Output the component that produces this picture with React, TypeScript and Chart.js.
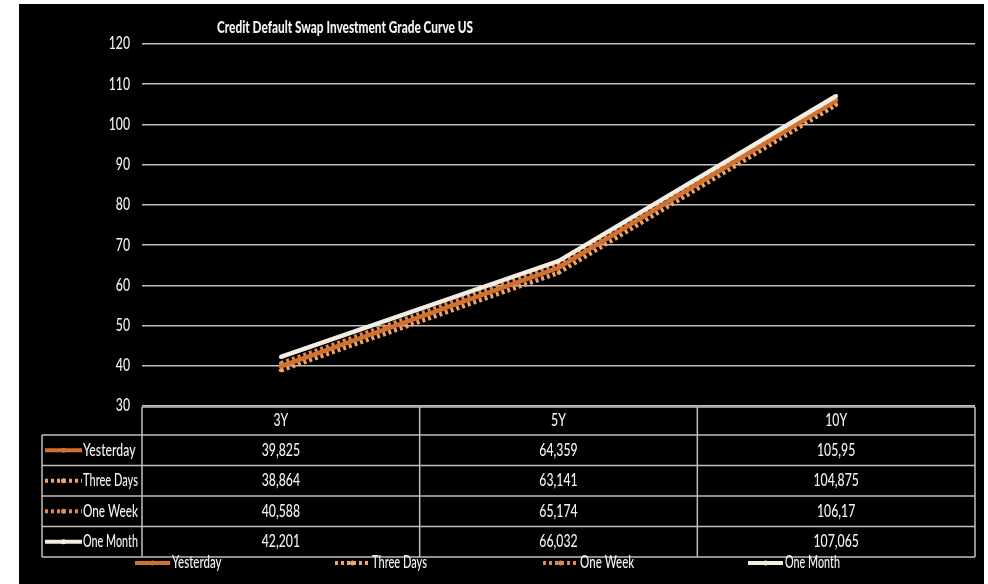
import React, { useEffect, useRef } from "react";
import { Chart, registerables } from "chart.js";

Chart.register(...registerables);

const TITLE = "Credit Default Swap Investment Grade Curve US";
const categories = ["3Y", "5Y", "10Y"];
const seriesNames = ["Yesterday", "Three Days", "One Week", "One Month"];
const yesterday = [39.825, 64.359, 105.95];
const threeDays = [38.864, 63.141, 104.875];
const oneWeek = [40.588, 65.174, 106.17];
const oneMonth = [42.201, 66.032, 107.065];
const yMin = 30;
const yMax = 120;
const yStep = 10;

const seriesValues = [yesterday, threeDays, oneWeek, oneMonth];
const seriesColors = ["#D2702E", "#F0A468", "#E08A50", "#F3ECE2"];
const seriesDash: number[][] = [[], [3, 3], [3, 3], []];
const seriesOrder = [1, 2, 3, 0];

const FONT = 'Lato, "Liberation Sans", Arial, sans-serif';
const TEXT = "#F2F2F2";
const GRID = "#BFBFBF";
const SX = 0.72;

const fmt = (v: number) => String(v).replace(".", ",");

function narrowText(
  ctx: CanvasRenderingContext2D,
  text: string,
  x: number,
  y: number,
  align: CanvasTextAlign,
  font: string,
  sx = SX,
  maxW?: number
) {
  ctx.save();
  ctx.font = font;
  ctx.fillStyle = TEXT;
  ctx.textAlign = align;
  ctx.textBaseline = "middle";
  ctx.translate(x, y);
  ctx.scale(sx, 1);
  if (maxW !== undefined) ctx.fillText(text, 0, 0, maxW / sx);
  else ctx.fillText(text, 0, 0);
  ctx.restore();
}

function drawSample(ctx: CanvasRenderingContext2D, i: number, x0: number, x1: number, y: number) {
  ctx.save();
  ctx.strokeStyle = seriesColors[i];
  ctx.lineWidth = 4;
  ctx.setLineDash(seriesDash[i]);
  ctx.beginPath();
  ctx.moveTo(x0, y);
  ctx.lineTo(x1, y);
  ctx.stroke();
  ctx.setLineDash([]);
  ctx.fillStyle = seriesColors[i];
  ctx.beginPath();
  ctx.arc((x0 + x1) / 2, y, 2.5, 0, Math.PI * 2);
  ctx.fill();
  ctx.restore();
}

const extrasPlugin = {
  id: "extras",
  afterDraw(chart: any) {
    const { ctx, chartArea, scales } = chart;
    const xs = scales.x;
    const ys = scales.y;
    const left = chartArea.left;
    const right = chartArea.right;
    const colW = (right - left) / categories.length;
    const top = chartArea.bottom + 1;
    const headerH = 28;
    const rowH = 30.5;
    const labelLeft = 23;
    const bottom = top + headerH + rowH * seriesNames.length;
    const f = `500 17px ${FONT}`;

    ctx.save();
    // title
    narrowText(ctx, TITLE, 326, 24, "center", `900 17px ${FONT}`, 0.7, 256);

    // y tick labels
    ys.ticks.forEach((t: any) => {
      narrowText(ctx, String(t.value), left - 12, ys.getPixelForValue(t.value), "right", f);
    });

    // table lines
    ctx.strokeStyle = GRID;
    ctx.lineWidth = 1.5;
    ctx.beginPath();
    ctx.moveTo(left, top);
    ctx.lineTo(right, top);
    for (let r = 0; r <= seriesNames.length; r++) {
      const y = top + headerH + r * rowH;
      ctx.moveTo(labelLeft, y);
      ctx.lineTo(right, y);
    }
    ctx.moveTo(labelLeft, top + headerH);
    ctx.lineTo(labelLeft, bottom);
    for (let c = 0; c <= categories.length; c++) {
      const x = left + c * colW;
      ctx.moveTo(x, top);
      ctx.lineTo(x, bottom);
    }
    ctx.stroke();

    // header
    categories.forEach((cat, c) => {
      narrowText(ctx, cat, xs.getPixelForValue(c), top + headerH / 2, "center", f);
    });

    // rows
    seriesNames.forEach((name, r) => {
      const yc = top + headerH + r * rowH + rowH / 2;
      drawSample(ctx, r, labelLeft + 3, labelLeft + 40, yc);
      narrowText(ctx, name, labelLeft + 41, yc, "left", f, SX, left - 4 - (labelLeft + 41));
      seriesValues[r].forEach((v, c) => {
        narrowText(ctx, fmt(v), xs.getPixelForValue(c), yc, "center", f);
      });
    });

    // bottom legend
    const legendStarts = [116, 316, 524, 729];
    const ly = bottom + 6;
    seriesNames.forEach((name, i) => {
      const x0 = legendStarts[i];
      drawSample(ctx, i, x0, x0 + 35, ly);
      narrowText(ctx, name, x0 + 37, ly, "left", f, 0.68, 55);
    });
    ctx.restore();
  },
};

export default function App() {
  const ref = useRef<HTMLCanvasElement | null>(null);
  useEffect(() => {
    if (!ref.current) return;
    const chart = new Chart(ref.current, {
      type: "line",
      data: {
        labels: categories,
        datasets: seriesNames.map((name, i) => ({
          label: name,
          data: seriesValues[i],
          borderColor: seriesColors[i],
          backgroundColor: seriesColors[i],
          borderWidth: 4.5,
          borderDash: seriesDash[i],
          pointRadius: 2,
          pointBorderWidth: 0,
          pointBackgroundColor: seriesColors[i],
          tension: 0,
          order: seriesOrder[i],
        })),
      },
      options: {
        animation: false,
        responsive: false,
        layout: { padding: { top: 40, right: 9, bottom: 178, left: 0 } },
        plugins: {
          legend: { display: false },
          title: { display: false },
          tooltip: { enabled: false },
        },
        scales: {
          x: { type: "category", display: false, offset: true },
          y: {
            min: yMin,
            max: yMax,
            ticks: { stepSize: yStep, display: false },
            grid: { color: GRID, lineWidth: 1.5, drawTicks: false },
            border: { display: false },
            afterFit: (scale: any) => {
              scale.width = 123;
            },
          },
        },
      },
      plugins: [extrasPlugin],
    });
    return () => chart.destroy();
  }, []);
  return (
    <div style={{ position: "absolute", left: 19, top: 4, width: 965, height: 580, background: "#000" }}>
      <canvas ref={ref} width={965} height={580} />
    </div>
  );
}
